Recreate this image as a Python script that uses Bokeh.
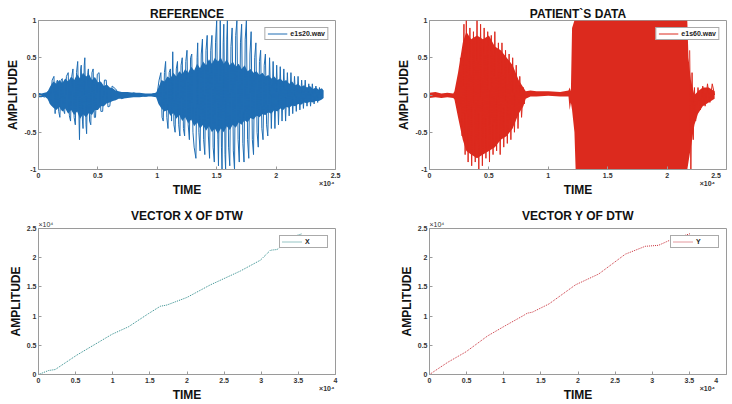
from bokeh.plotting import figure
from bokeh.models import Range1d, FixedTicker, Title
from bokeh.layouts import column, row
from bokeh.embed import file_html
from bokeh.resources import INLINE

# ---------------- data ----------------
# reference recording e1s20.wav : dense core envelope
ref_t = [0, 250, 500, 750, 1000, 1250, 1500, 1750, 2000, 2250, 2500, 2750, 3000, 3250, 3500, 3750,
         4000, 4250, 4500, 4750, 5000, 5250, 5500, 5750, 6000, 6250, 6500, 6750, 7000,
         7500, 8000, 8500, 9000, 9500, 9900,
         10100, 10350, 10600, 10850, 11100, 11350, 11600, 11850, 12100, 12350, 12600, 12850, 13100,
         13350, 13600, 13850, 14100, 14350, 14600, 14850, 15100, 15350, 15600, 15850, 16100, 16350,
         16600, 16850, 17100, 17350, 17600, 17850, 18100, 18350, 18600, 18850, 19100, 19350, 19600,
         19850, 20100, 20350, 20600, 20850, 21100, 21350, 21600, 21850, 22100, 22350, 22600, 22850,
         23100, 23350, 23600, 23850, 24000]
ref_up = [0.03, 0.02, 0.03, 0.04, 0.12, 0.18, 0.15, 0.2, 0.16, 0.22, 0.18, 0.25, 0.2, 0.28, 0.22, 0.3,
          0.25, 0.28, 0.2, 0.24, 0.17, 0.18, 0.12, 0.14, 0.1, 0.09, 0.06, 0.05, 0.04,
          0.04, 0.03, 0.03, 0.02, 0.02, 0.03,
          0.1, 0.2, 0.18, 0.25, 0.22, 0.3, 0.25, 0.32, 0.28, 0.35, 0.3, 0.38, 0.33, 0.42, 0.36, 0.45,
          0.4, 0.48, 0.42, 0.5, 0.45, 0.5, 0.42, 0.48, 0.4, 0.45, 0.38, 0.42, 0.35, 0.4, 0.32, 0.35,
          0.3, 0.32, 0.27, 0.3, 0.25, 0.27, 0.22, 0.25, 0.2, 0.22, 0.18, 0.2, 0.15, 0.18, 0.13, 0.15,
          0.11, 0.13, 0.1, 0.12, 0.08, 0.1, 0.07, 0.09, 0.06]
ref_lo = [-0.03, -0.03, -0.02, -0.05, -0.13, -0.17, -0.2, -0.16, -0.22, -0.18, -0.25, -0.2, -0.27,
          -0.22, -0.32, -0.26, -0.3, -0.24, -0.27, -0.2, -0.2, -0.15, -0.15, -0.11, -0.1, -0.08, -0.07,
          -0.05, -0.05,
          -0.04, -0.03, -0.03, -0.02, -0.02, -0.03,
          -0.12, -0.18, -0.22, -0.2, -0.28, -0.24, -0.32, -0.27, -0.35, -0.3, -0.38, -0.33, -0.42,
          -0.37, -0.45, -0.4, -0.48, -0.42, -0.5, -0.45, -0.52, -0.45, -0.5, -0.42, -0.47, -0.4, -0.44,
          -0.37, -0.4, -0.34, -0.37, -0.31, -0.33, -0.28, -0.3, -0.26, -0.27, -0.23, -0.25, -0.2,
          -0.22, -0.18, -0.2, -0.16, -0.17, -0.14, -0.15, -0.12, -0.13, -0.1, -0.11, -0.09, -0.1,
          -0.08, -0.08, -0.06, -0.04]
# reference recording: individual peaks
ref_pk_t = [0, 500, 800, 1000, 1150, 1300, 1400, 1500, 1600, 1700, 1800, 1900, 2000, 2100, 2200, 2350,
            2500, 2600, 2700, 2800, 2900, 3000, 3100, 3200, 3300, 3450, 3550, 3600, 3700, 3750, 3850,
            3900, 4000, 4050, 4150, 4200, 4300, 4400, 4500, 4600, 4700, 4800, 4950, 5100, 5250, 5400,
            5550, 5700, 5850, 6000, 6200, 6500, 7000, 8000, 9000, 10000,
            10150, 10300, 10400, 10500, 10600, 10700, 10800, 10900, 11000, 11100, 11200, 11300, 11400,
            11500, 11600, 11700, 11800, 11900, 12000, 12100, 12200, 12300, 12400, 12500, 12600, 12700,
            12800, 12900, 13000, 13100, 13250, 13350, 13400, 13500, 13600, 13700, 13800, 13900, 14000,
            14100, 14200, 14300, 14400, 14500, 14600, 14700, 14800, 14900, 15000, 15100, 15150, 15300,
            15400, 15450, 15550, 15600, 15700, 15750, 15850, 15900, 16000, 16100, 16200, 16300, 16400,
            16500, 16600, 16700, 16800, 16900, 17000, 17100, 17200, 17300, 17400, 17500, 17600, 17700,
            17800, 17900, 18000, 18100, 18200, 18300, 18400, 18500, 18600, 18700, 18800, 18900, 19000,
            19100, 19200, 19300, 19450, 19600, 19750, 19900, 20050, 20200, 20350, 20500, 20650, 20800,
            20950, 21100, 21250, 21400, 21550, 21700, 21850, 22000, 22150, 22300, 22450, 22600, 22750,
            22900, 23050, 23200, 23350, 23500, 23650, 23800, 23900, 24000]
ref_pk_v = [0.02, -0.03, 0.05, -0.12, 0.2, 0.25, -0.25, 0.18, 0.2, -0.22, -0.3, 0.2, 0.22, -0.2, -0.25,
            0.25, 0.3, -0.28, -0.35, 0.25, 0.35, -0.3, -0.4, 0.3, 0.45, -0.6, 0.35, 0.4, -0.35, -0.45,
            0.4, 0.5, -0.4, -0.52, 0.3, 0.35, -0.35, -0.4, 0.3, 0.35, -0.3, -0.3, 0.28, 0.3, -0.22, -0.22,
            0.2, 0.2, -0.16, -0.15, 0.12, 0.08, -0.05, 0.03, -0.02, 0.03,
            0.2, 0.3, -0.3, -0.35, 0.3, 0.45, -0.3, -0.45, 0.3, 0.35, -0.35, 0.58, -0.4, -0.5, 0.35,
            0.45, -0.4, -0.55, 0.4, 0.5, -0.45, -0.55, 0.45, 0.6, -0.4, -0.6, 0.5, 0.55, -0.5, -0.7,
            -0.85, 0.5, 0.7, -0.5, -0.75, 0.55, 0.75, -0.6, -0.8, 0.6, 0.8, -0.55, -0.85, 0.6, 0.8, -0.7,
            -0.9, 0.7, 1.0, -0.6, -0.95, 1.0, -0.7, -1.0, 0.7, 0.95, -0.8, -1.0, 0.75, 1.0, -0.7, -0.95,
            0.65, 0.9, -0.75, -1.0, 0.8, 1.0, -0.6, -0.9, 0.7, 0.95, -0.65, -0.9, 0.75, 1.0, -0.6, -0.85,
            0.55, 0.85, -0.6, -0.8, 0.5, 0.7, -0.5, -0.7, 0.45, 0.6, -0.45, -0.6, 0.4, 0.55, -0.4, -0.55,
            0.5, -0.45, 0.45, -0.45, 0.4, -0.4, 0.38, -0.35, 0.35, -0.35, 0.3, -0.28, 0.3, -0.25, 0.25,
            -0.22, 0.25, -0.2, 0.2, -0.18, 0.2, -0.15, 0.15, -0.15, 0.15, -0.12, 0.12, -0.1, 0.1, -0.05]

# patient recording e1s60.wav : dense core envelope
pat_t = [0, 500, 1000, 1500, 2000, 2100, 2400, 2800, 3100, 3500, 4000, 4500, 5000, 5500, 6000, 6500,
         7000, 7500, 7900, 8100, 8500, 9000, 10000, 11000, 11700, 11800, 11900, 12000, 12200, 12300,
         13000, 15000, 18000, 21000, 21700, 21800, 22000, 22300, 22600, 23000, 23500, 24000]
pat_up = [0.03, 0.04, 0.02, 0.03, 0.02, 0.05, 0.3, 0.7, 0.85, 0.75, 0.8, 0.75, 0.8, 0.65, 0.6, 0.5,
          0.4, 0.2, 0.1, 0.05, 0.06, 0.05, 0.05, 0.04, 0.06, 0.1, 0.05, 0.9, 1.0, 1.0, 1.0, 1.0, 1.0,
          1.0, 1.0, 0.5, 0.2, 0.0, 0.05, 0.1, 0.1, 0.05]
pat_lo = [-0.04, -0.03, -0.04, -0.03, -0.04, -0.06, -0.3, -0.6, -0.75, -0.8, -0.85, -0.8, -0.75, -0.7,
          -0.6, -0.55, -0.45, -0.25, -0.15, -0.05, -0.02, -0.02, -0.01, -0.02, -0.02, -0.2, -0.1, -0.2,
          -0.5, -1.0, -1.0, -1.0, -1.0, -1.0, -1.0, -0.9, -0.7, -0.4, -0.25, -0.15, -0.1, -0.05]
# patient recording: individual peaks
pat_pk_t = [2600, 2750, 2900, 3000, 3100, 3250, 3400, 3550, 3700, 3850, 4000, 4150, 4300, 4450, 4600,
            4750, 4900, 5050, 5200, 5350, 5500, 5650, 5800, 5950, 6100, 6250, 6400, 6550, 6700, 6850,
            7000, 7150, 7300, 7450, 7600, 7750, 7900, 8000]
pat_pk_v = [0.5, -0.55, 0.95, -0.8, 1.0, -0.9, 0.9, -0.95, 0.85, -0.9, 1.0, -1.0, 0.95, -0.95, 0.9,
            -0.85, 0.85, -0.9, 0.8, -0.8, 0.85, -0.75, 0.7, -0.8, 0.7, -0.7, 0.6, -0.65, 0.55, -0.6,
            0.5, -0.5, 0.4, -0.45, 0.25, -0.3, 0.1, -0.12]
pat_tail_t = [21900, 22000, 22100, 22200, 22300, 22400, 22600, 22800, 23000, 23200, 23400, 23600,
              23800, 24000]
pat_tail_v = [0.6, -1.0, 0.3, -0.6, 0.1, -0.35, 0.1, -0.2, 0.12, -0.15, 0.15, -0.1, 0.15, 0.0]

# DTW warping path, vector X
dtw_x_idx = [0, 1350, 2250, 5170, 9890, 12130, 14830, 16400, 17300, 20000, 23150, 27190, 29890,
             31240, 32130, 34380, 35500]
dtw_x_val = [0, 680, 850, 3330, 6880, 8180, 10440, 11680, 11900, 13200, 15350, 17720, 19580, 21280,
             21400, 23650, 24100]
# DTW warping path, vector Y
dtw_y_idx = [0, 1120, 2460, 4920, 7820, 10280, 12510, 13180, 13850, 16090, 19660, 22790, 26370,
             29050, 30840, 32630, 33970, 35080]
dtw_y_val = [0, 960, 2090, 3890, 6600, 8410, 9990, 10500, 10670, 12080, 15350, 17210, 20600, 21950,
             22120, 23140, 23650, 24100]

# ticks (the x exponent is shown under the last x tick, MATLAB style)
EXP = "\u00d710\u2074"
PAD = "\u00a0" * 9
wave_xticks = [0, 5000, 10000, 15000, 20000, 25000]
wave_xlabels = ["0", "0.5", "1", "1.5", "2", "2.5\n" + EXP + PAD]
wave_yticks = [-1, -0.5, 0, 0.5, 1]
wave_ylabels = ["-1", "-0.5", "0", "0.5", "1"]
dtw_xticks = [0, 5000, 10000, 15000, 20000, 25000, 30000, 35000, 40000]
dtw_xlabels = ["0", "0.5", "1", "1.5", "2", "2.5", "3", "3.5", "4\n" + EXP + PAD]
dtw_yticks = [0, 5000, 10000, 15000, 20000, 25000]
dtw_ylabels = ["0", "0.5", "1", "1.5", "2", "2.5"]

BLUE = "#1f6db3"
RED = "#dc2a1e"
FONT = "Liberation Sans"


def make_fig(width, height, left, right, top, bottom, title, xr, yr, xt, xl, yt, yl):
    p = figure(width=width, height=height, output_backend="svg", toolbar_location=None,
               x_range=Range1d(*xr), y_range=Range1d(*yr),
               min_border_left=left, min_border_right=right,
               min_border_top=top, min_border_bottom=bottom)
    p.title.text = title
    p.title.align = "center"
    p.title.text_font = FONT
    p.title.text_font_size = "12px"
    p.title.text_font_style = "bold"
    p.title.text_color = "#111111"
    p.title.standoff = 0
    p.title.offset = 0
    p.grid.visible = False
    p.outline_line_color = "#9a9a9a"
    p.background_fill_color = "white"
    p.border_fill_color = "white"
    for ax, ticks, labels, name in ((p.xaxis[0], xt, xl, "TIME"), (p.yaxis[0], yt, yl, "AMPLITUDE")):
        ax.ticker = FixedTicker(ticks=ticks)
        ax.major_label_overrides = {k: v for k, v in zip(ticks, labels)}
        ax.axis_label = name
        ax.axis_label_text_font = FONT
        ax.axis_label_text_font_size = "12px"
        ax.axis_label_text_font_style = "bold"
        ax.axis_label_text_color = "#111111"
        ax.axis_label_standoff = 1
        ax.major_label_text_font = FONT
        ax.major_label_text_font_size = "7px"
        ax.major_label_text_font_style = "bold"
        ax.major_label_text_color = "#333333"
        ax.major_label_standoff = 2
        ax.major_tick_in = 3
        ax.major_tick_out = 0
        ax.minor_tick_line_color = None
        ax.axis_line_color = "#9a9a9a"
        ax.major_tick_line_color = "#9a9a9a"
    p.xaxis[0].axis_label_standoff = -7
    return p


def style_legend(p):
    lg = p.legend[0]
    lg.location = "top_right"
    lg.margin = 7
    lg.padding = 2
    lg.spacing = 0
    lg.glyph_width = 20
    lg.glyph_height = 7
    lg.label_height = 7
    lg.label_standoff = 3
    lg.label_text_font = FONT
    lg.label_text_font_size = "7px"
    lg.label_text_font_style = "bold"
    lg.label_text_color = "#222222"
    lg.border_line_color = "#555555"
    lg.border_line_width = 1
    lg.background_fill_color = "white"
    lg.background_fill_alpha = 1


def exp_title(p):
    p.add_layout(Title(text=EXP, align="left", text_font=FONT, text_font_size="7px",
                       text_font_style="normal", text_color="#333333", standoff=1, offset=0),
                 "above")
    p.title.standoff = -9


# ---------------- top left: REFERENCE ----------------
p1 = make_fig(366, 202, 38, 31, 20, 33, "REFERENCE", (0, 25000), (-1, 1),
              wave_xticks, wave_xlabels, wave_yticks, wave_ylabels)
p1.varea(x=ref_t, y1=ref_lo, y2=ref_up, fill_color=BLUE, fill_alpha=1)
p1.line(ref_pk_t, ref_pk_v, line_color=BLUE, line_width=1, legend_label="e1s20.wav")
style_legend(p1)

# ---------------- top right: PATIENT'S DATA ----------------
p2 = make_fig(366, 202, 63, 6, 20, 33, "PATIENT`S DATA", (0, 25000), (-1, 1),
              wave_xticks, wave_xlabels, wave_yticks, wave_ylabels)
p2.varea(x=pat_t, y1=pat_lo, y2=pat_up, fill_color=RED, fill_alpha=1)
p2.line(pat_pk_t, pat_pk_v, line_color=RED, line_width=1, legend_label="e1s60.wav")
p2.line(pat_tail_t, pat_tail_v, line_color=RED, line_width=1)
style_legend(p2)

# ---------------- bottom left: VECTOR X OF DTW ----------------
p3 = make_fig(366, 202, 38, 31, 26, 28, "VECTOR X OF DTW", (0, 40000), (0, 25000),
              dtw_xticks, dtw_xlabels, dtw_yticks, dtw_ylabels)
p3.line(dtw_x_idx, dtw_x_val, line_color="#2e8b8b", line_width=1, line_dash="1 1", legend_label="X")
style_legend(p3)
exp_title(p3)

# ---------------- bottom right: VECTOR Y OF DTW ----------------
p4 = make_fig(366, 202, 63, 6, 26, 28, "VECTOR Y OF DTW", (0, 40000), (0, 25000),
              dtw_xticks, dtw_xlabels, dtw_yticks, dtw_ylabels)
p4.line(dtw_y_idx, dtw_y_val, line_color="#c8323c", line_width=1, line_dash="1 1", legend_label="Y")
style_legend(p4)
exp_title(p4)

layout = column(row(p1, p2), row(p3, p4))
open("out.html", "w").write(file_html(layout, INLINE))
